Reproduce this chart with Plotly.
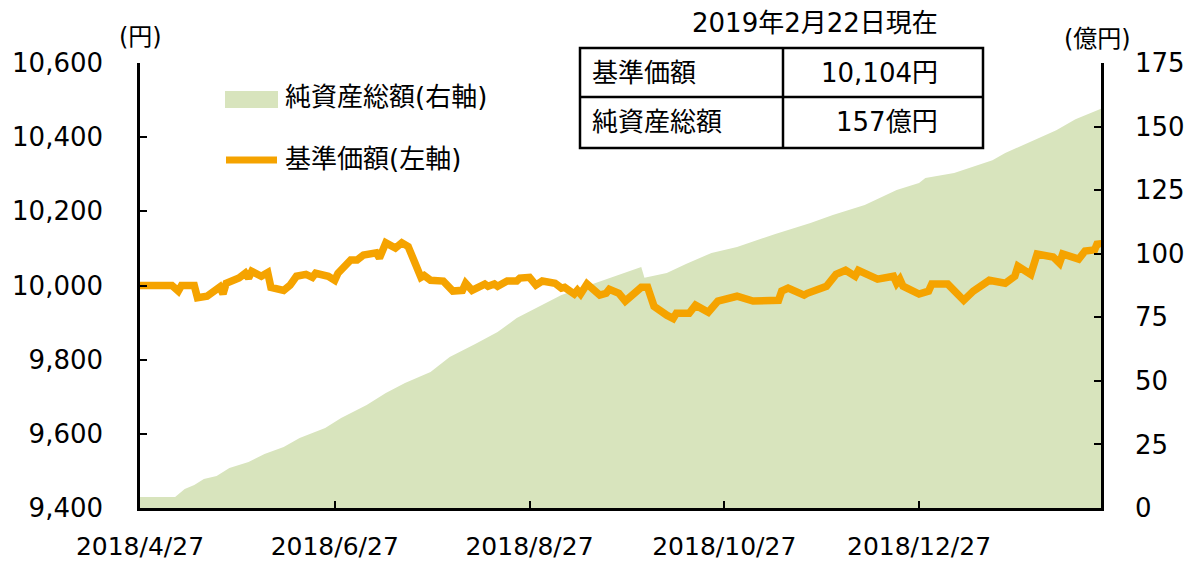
import plotly.graph_objects as go

# ---- data ----
nav_dates = [
    "2018-04-27", "2018-05-07", "2018-05-09", "2018-05-10", "2018-05-14", "2018-05-15",
    "2018-05-18", "2018-05-22", "2018-05-23", "2018-05-24", "2018-05-28", "2018-05-30",
    "2018-05-31", "2018-06-01", "2018-06-04", "2018-06-06", "2018-06-07", "2018-06-11",
    "2018-06-13", "2018-06-15", "2018-06-18", "2018-06-20", "2018-06-21", "2018-06-25",
    "2018-06-27", "2018-06-28", "2018-07-02", "2018-07-04", "2018-07-06", "2018-07-10",
    "2018-07-11", "2018-07-13", "2018-07-16", "2018-07-18", "2018-07-20", "2018-07-23",
    "2018-07-24", "2018-07-25", "2018-07-27", "2018-07-31", "2018-08-03", "2018-08-06",
    "2018-08-07", "2018-08-09", "2018-08-13", "2018-08-14", "2018-08-16", "2018-08-17",
    "2018-08-20", "2018-08-23", "2018-08-24", "2018-08-27", "2018-08-29", "2018-08-31",
    "2018-09-04", "2018-09-06", "2018-09-07", "2018-09-10", "2018-09-11", "2018-09-12",
    "2018-09-14", "2018-09-18", "2018-09-20", "2018-09-21", "2018-09-24", "2018-09-26",
    "2018-10-01", "2018-10-03", "2018-10-05", "2018-10-09", "2018-10-11", "2018-10-12",
    "2018-10-16", "2018-10-18", "2018-10-22", "2018-10-25", "2018-10-31", "2018-11-05",
    "2018-11-13", "2018-11-14", "2018-11-16", "2018-11-21", "2018-11-22", "2018-11-28",
    "2018-12-01", "2018-12-04", "2018-12-07", "2018-12-08", "2018-12-14", "2018-12-19",
    "2018-12-20", "2018-12-21", "2018-12-22", "2018-12-27", "2018-12-30", "2018-12-31",
    "2019-01-05", "2019-01-10", "2019-01-13", "2019-01-18", "2019-01-23", "2019-01-26",
    "2019-01-27", "2019-01-31", "2019-02-02", "2019-02-07", "2019-02-09", "2019-02-10",
    "2019-02-15", "2019-02-17", "2019-02-20", "2019-02-21", "2019-02-22",
]
nav_values = [
    10000, 10000, 9985, 10000, 10000, 9967,
    9971, 9996, 9977, 10006, 10020, 10033,
    10020, 10038, 10025, 10035, 9995, 9987,
    10001, 10025, 10030, 10022, 10033, 10025,
    10014, 10033, 10069, 10069, 10082, 10088,
    10074, 10115, 10101, 10115, 10105, 10035,
    10022, 10027, 10014, 10012, 9985, 9987,
    10006, 9987, 10004, 9998, 10004, 9998,
    10012, 10012, 10020, 10022, 10001, 10012,
    10006, 9993, 9995, 9977, 9987, 9977,
    10004, 9974, 9979, 9990, 9979, 9958,
    9995, 9995, 9944, 9920, 9911, 9925,
    9925, 9947, 9928, 9958, 9971, 9958,
    9960, 9985, 9993, 9974, 9979, 9998,
    10030, 10041, 10025, 10041, 10017, 10025,
    10006, 10017, 9998, 9977, 9985, 10004,
    10004, 9960, 9985, 10014, 10006, 10025,
    10052, 10030, 10085, 10077, 10060, 10085,
    10071, 10093, 10096, 10117, 10104,
]

asset_dates = [
    "2018-04-27", "2018-05-08", "2018-05-11", "2018-05-14", "2018-05-17", "2018-05-21",
    "2018-05-25", "2018-05-31", "2018-06-05", "2018-06-11", "2018-06-16", "2018-06-24",
    "2018-06-29", "2018-07-07", "2018-07-13", "2018-07-19", "2018-07-27", "2018-08-02",
    "2018-08-10", "2018-08-17", "2018-08-23", "2018-08-30", "2018-09-06", "2018-09-14",
    "2018-09-22", "2018-10-01", "2018-10-02", "2018-10-09", "2018-10-15", "2018-10-23",
    "2018-10-31", "2018-11-12", "2018-11-23", "2018-11-30", "2018-12-10", "2018-12-20",
    "2018-12-27", "2018-12-29", "2019-01-07", "2019-01-13", "2019-01-19", "2019-01-23",
    "2019-01-30", "2019-02-08", "2019-02-14", "2019-02-19", "2019-02-22",
]
asset_values = [
    4.3, 4.3, 7.5, 9.0, 11.4, 12.6,
    15.7, 18.1, 21.2, 24.0, 27.5, 31.5,
    35.4, 40.5, 45.2, 49.2, 53.5, 59.4,
    64.5, 69.2, 74.7, 79.4, 83.8, 87.3,
    90.9, 94.8, 90.5, 92.4, 96.0, 100.3,
    102.6, 107.8, 112.1, 115.2, 119.2, 125.1,
    127.8, 129.8, 131.7, 134.1, 136.8, 139.6,
    143.5, 148.6, 152.9, 155.3, 157.0,
]

x_range = ["2018-04-27", "2019-02-22"]
x_tick_dates = ["2018-04-27", "2018-06-27", "2018-08-27", "2018-10-27", "2018-12-27"]
x_tick_labels = ["2018/4/27", "2018/6/27", "2018/8/27", "2018/10/27", "2018/12/27"]

legend_labels = ["純資産総額(右軸)", "基準価額(左軸)"]
table_title = "2019年2月22日現在"
table_rows = [["基準価額", "10,104円"], ["純資産総額", "157億円"]]
left_unit = "(円)"
right_unit = "(億円)"

# ---- styling ----
GREEN = "#D8E4BD"
ORANGE = "#F5A300"
FONT = "DejaVu Sans, Noto Sans CJK JP, sans-serif"
BLACK = "#000000"

fig = go.Figure()
fig.add_trace(go.Scatter(
    x=asset_dates, y=asset_values, yaxis="y", mode="lines",
    fill="tozeroy", fillcolor=GREEN, line=dict(width=0, color=GREEN),
    name=legend_labels[0], showlegend=False, hoverinfo="skip"))
fig.add_trace(go.Scatter(
    x=nav_dates, y=nav_values, yaxis="y2", mode="lines",
    line=dict(width=7.5, color=ORANGE),
    name=legend_labels[1], showlegend=False))

axis_common = dict(showgrid=False, zeroline=False, showline=True, linecolor=BLACK,
                   linewidth=2.5, ticks="inside", ticklen=7, tickwidth=2, tickcolor=BLACK,
                   tickfont=dict(family=FONT, size=26, color=BLACK), automargin=False)

x_axis_style = dict(axis_common)
x_axis_style["tickfont"] = dict(family=FONT, size=25, color=BLACK)

fig.update_layout(
    width=1186, height=562,
    margin=dict(l=140, r=85, t=63, b=54),
    paper_bgcolor="white", plot_bgcolor="white",
    font=dict(family=FONT, color=BLACK),
    showlegend=False,
    xaxis=dict(type="date", range=x_range, tickmode="array", tickvals=x_tick_dates,
               ticktext=x_tick_labels, ticklabelstandoff=14, **x_axis_style),
    yaxis=dict(side="right", range=[0, 175], tickmode="linear", tick0=0, dtick=25,
               ticklabelstandoff=26, **axis_common),
    yaxis2=dict(side="left", overlaying="y", range=[9400, 10600], tickmode="linear",
                tick0=9400, dtick=200, tickformat=",d", ticklabelstandoff=29, **axis_common),
)

# pixel -> paper helpers for the decorations (plot area 140..1101 x 63..508)
def px(x):
    return (x - 140) / 961.0

def py(y):
    return (508 - y) / 445.0

shapes = []
# legend swatches
shapes.append(dict(type="rect", xref="paper", yref="paper", x0=px(225), x1=px(278),
                   y0=py(108), y1=py(91), fillcolor=GREEN, line=dict(width=0), layer="above"))
shapes.append(dict(type="line", xref="paper", yref="paper", x0=px(226), x1=px(277),
                   y0=py(160), y1=py(160), line=dict(color=ORANGE, width=7), layer="above"))
# table
shapes.append(dict(type="rect", xref="paper", yref="paper", x0=px(580), x1=px(983),
                   y0=py(148), y1=py(48), line=dict(color=BLACK, width=2.5),
                   fillcolor="white", layer="above"))
shapes.append(dict(type="line", xref="paper", yref="paper", x0=px(580), x1=px(983),
                   y0=py(97), y1=py(97), line=dict(color=BLACK, width=2.5), layer="above"))
shapes.append(dict(type="line", xref="paper", yref="paper", x0=px(783), x1=px(783),
                   y0=py(148), y1=py(48), line=dict(color=BLACK, width=2.5), layer="above"))
fig.update_layout(shapes=shapes)

ann = []
tf = dict(family=FONT, size=26, color=BLACK)
ann.append(dict(text=legend_labels[0], x=px(283), y=py(97), xref="paper", yref="paper",
                xanchor="left", yanchor="middle", showarrow=False, font=tf))
ann.append(dict(text=legend_labels[1], x=px(283), y=py(159), xref="paper", yref="paper",
                xanchor="left", yanchor="middle", showarrow=False, font=tf))
ann.append(dict(text=table_title, x=px(815), y=py(23), xref="paper", yref="paper",
                xanchor="center", yanchor="middle", showarrow=False, font=tf))
row_y = [72.5, 122.5]
for (label, value), yy in zip(table_rows, row_y):
    ann.append(dict(text=label, x=px(590), y=py(yy), xref="paper", yref="paper",
                    xanchor="left", yanchor="middle", showarrow=False, font=tf))
    ann.append(dict(text=value, x=px(940), y=py(yy), xref="paper", yref="paper",
                    xanchor="right", yanchor="middle", showarrow=False, font=tf))
ann.append(dict(text=left_unit, x=px(140), y=py(37), xref="paper", yref="paper",
                xanchor="center", yanchor="middle", showarrow=False,
                font=dict(family=FONT, size=24, color=BLACK)))
ann.append(dict(text=right_unit, x=px(1097), y=py(39), xref="paper", yref="paper",
                xanchor="center", yanchor="middle", showarrow=False,
                font=dict(family=FONT, size=24, color=BLACK)))
fig.update_layout(annotations=ann)

fig.write_html("out.html", config={"displayModeBar": False},
               post_script="document.body.style.margin='0px';")
